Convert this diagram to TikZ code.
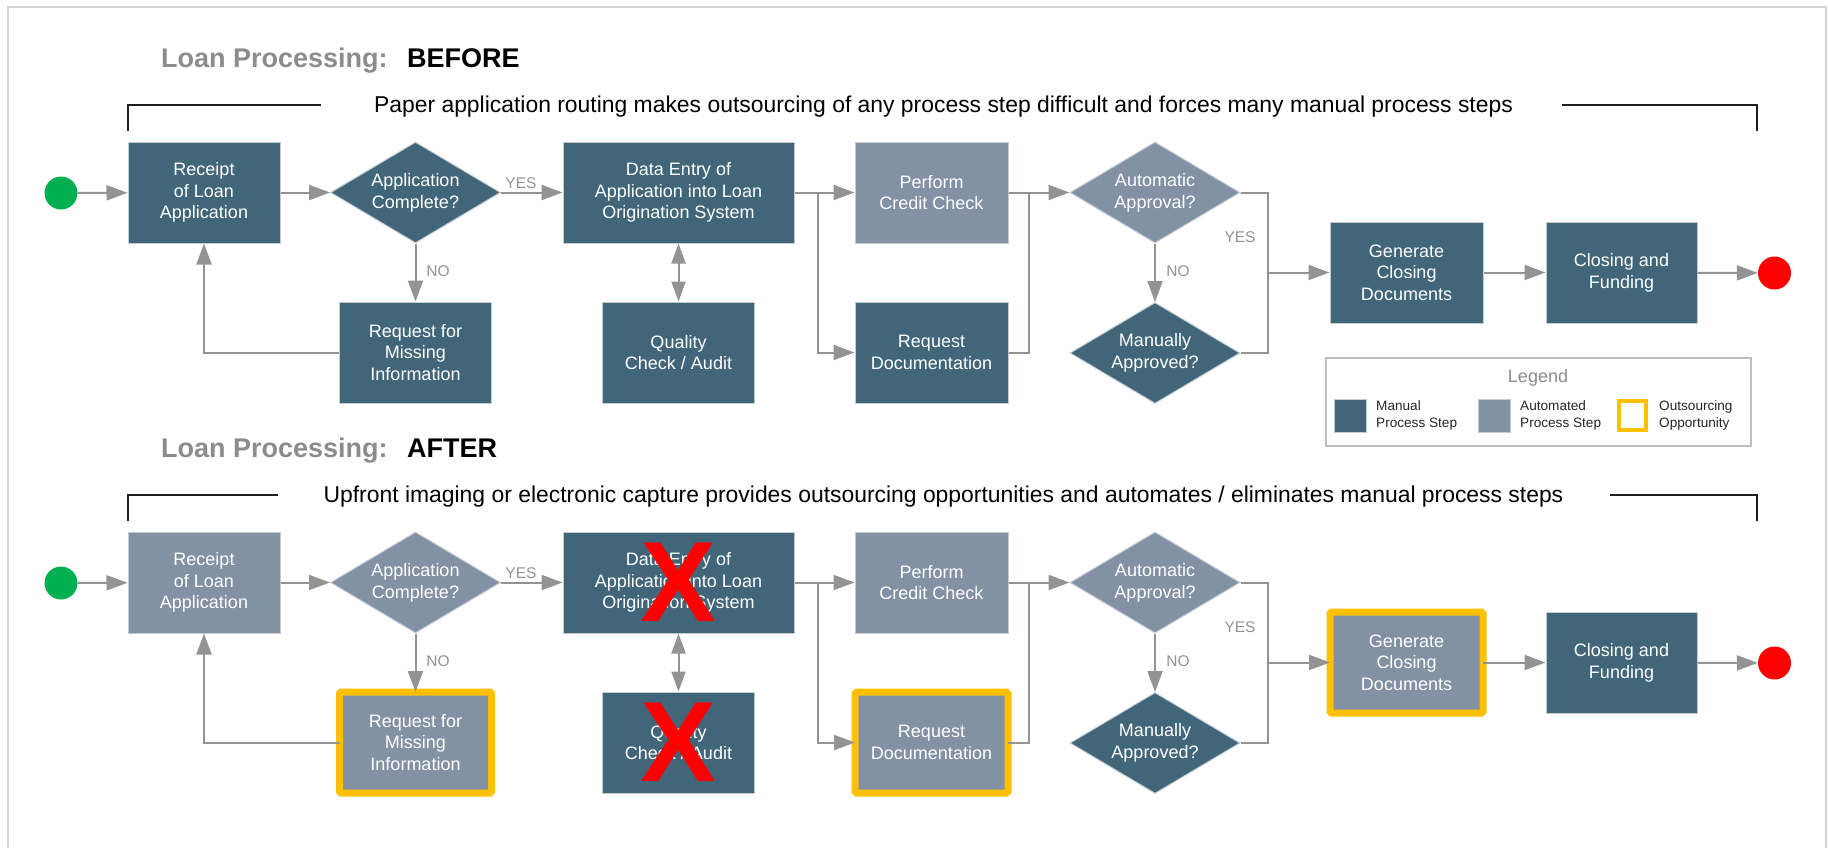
\documentclass[tikz,border=0pt]{standalone}
\usepackage{fontspec}
\setmainfont{Liberation Sans}
\usetikzlibrary{arrows.meta,shapes.geometric}
\definecolor{manual}{HTML}{416679}
\definecolor{autoc}{HTML}{8391A5}
\definecolor{edgec}{HTML}{C3CCD3}
\definecolor{conn}{HTML}{939393}
\definecolor{outs}{HTML}{FFC000}
\definecolor{ttlgrey}{HTML}{8C8C8C}
\definecolor{framegrey}{HTML}{D3D3D3}
\definecolor{startgreen}{HTML}{00B050}
\definecolor{endred}{HTML}{FF0000}
\begin{document}
\begin{tikzpicture}[x=1pt,y=-1pt,
  boxbase/.style={rectangle, draw=edgec, line width=1pt, text=white, align=center,
    font=\fontsize{18}{21.7}\selectfont, inner sep=0pt, minimum height=101pt},
  manbox/.style={boxbase, fill=manual},
  autobox/.style={boxbase, fill=autoc},
  outsbox/.style={draw=outs, line width=7pt, rounded corners=1.5pt, outer sep=0pt},
  dia/.style={diamond, draw=edgec, line width=1pt, text=white, align=center,
    font=\fontsize{18}{21.7}\selectfont, inner sep=0pt, aspect=1.68,
    minimum width=170pt, minimum height=101pt},
  termc/.style={circle, minimum size=33pt, inner sep=0pt, draw=none},
  arr/.style={draw=conn, line width=2pt, -{Triangle[length=21pt,width=15pt]}},
  dblarr/.style={draw=conn, line width=2pt, {Triangle[length=20pt,width=14pt]}-{Triangle[length=20pt,width=14pt]}},
  connl/.style={draw=conn, line width=2pt},
  lbl/.style={text=conn, font=\fontsize{15.5}{18}\selectfont, inner sep=0pt},
  ttl/.style={font=\bfseries\fontsize{27}{32}\selectfont, inner sep=0pt, anchor=base west},
  subt/.style={font=\fontsize{22.9}{26}\selectfont, inner sep=0pt, anchor=base},
  brk/.style={draw=black!88, line width=2pt},
  xmark/.style={text=endred, font=\bfseries\fontsize{114}{114}\selectfont, inner sep=0pt},
  legtxt/.style={align=left, font=\fontsize{13.6}{17}\selectfont, inner sep=0pt, text=black!85, anchor=west}
]
\useasboundingbox (0,0) rectangle (1828,847);
\fill[white] (0,0) rectangle (1828,847);
\draw[framegrey, line width=2pt] (8,860) -- (8,7) -- (1826,7) -- (1826,860);

% ================= BEFORE =================
\node[ttl, text=ttlgrey] (bt1) at (161,67) {Loan Processing:};
\node[ttl] (bt2) at (407,67) {BEFORE};
\node[subt] (bsub) at (943.5,112) {Paper application routing makes outsourcing of any process step difficult and forces many manual process steps};
\draw[brk] (321,105) -- (128,105) -- (128,131);
\draw[brk] (1562,105) -- (1757,105) -- (1757,131);

\node[termc, fill=startgreen] (bstart) at (61,193) {};
\node[manbox, minimum width=152pt] (breceipt) at (204,192.5) {Receipt\\of Loan\\Application};
\node[dia, fill=manual] (bapp) at (415.5,192.5) {Application\\Complete?};
\node[manbox, minimum width=231pt] (bdata) at (678.5,192.5) {Data Entry of\\Application into Loan\\Origination System};
\node[autobox, minimum width=153pt] (bperf) at (931.5,192.5) {Perform\\Credit Check};
\node[dia, fill=autoc] (bauto) at (1155,192.5) {Automatic\\Approval?};
\node[manbox, minimum width=153pt] (bgen) at (1406.5,272.5) {Generate\\Closing\\Documents};
\node[manbox, minimum width=151pt] (bclose) at (1621.5,272.5) {Closing and\\Funding};
\node[termc, fill=endred] (bend) at (1774.5,273) {};
\node[manbox, minimum width=152pt] (bmiss) at (415.5,352.5) {Request for\\Missing\\Information};
\node[manbox, minimum width=152pt] (bqual) at (678.5,352.5) {Quality\\Check / Audit};
\node[manbox, minimum width=153pt] (bdoc) at (931.5,352.5) {Request\\Documentation};
\node[dia, fill=manual] (bman) at (1155,353) {Manually\\Approved?};

\coordinate (bsplit) at (818,192.5);
\coordinate (bmerge) at (1029,192.5);
\coordinate (bjoin) at (1268,272.5);

\draw[arr] (bstart) -- (breceipt);
\draw[arr] (breceipt) -- (bapp);
\draw[arr] (bapp) -- (bdata);
\node[lbl] (byes1) at (521,183) {YES};
\draw[arr] (bapp) -- (bmiss);
\node[lbl] (bno1) at (438,271) {NO};
\draw[arr] (bmiss.west) -| (breceipt.south);
\draw[dblarr] (bdata) -- (bqual);
\draw[arr] (bdata) -- (bperf);
\draw[arr] (bsplit) |- (bdoc.west);
\draw[arr] (bperf) -- (bauto);
\draw[connl] (bdoc.east) -| (bmerge);
\draw[connl] (bauto.east) -| (bjoin);
\draw[connl] (bman.east) -| (bjoin);
\draw[arr] (bjoin) -- (bgen.west);
\node[lbl] (byes2) at (1240,237) {YES};
\draw[arr] (bauto) -- (bman);
\node[lbl] (bno2) at (1178,271) {NO};
\draw[arr] (bgen) -- (bclose);
\draw[arr] (bclose) -- (bend);

% legend
\node[draw=framegrey!90!black, line width=2pt, fill=white, minimum width=425pt, minimum height=88pt, inner sep=0pt] (legend) at (1538.5,402) {};
\node[text=ttlgrey, font=\fontsize{18}{21}\selectfont, inner sep=0pt] (legtitle) at (1538,378) {Legend};
\node[fill=manual, draw=edgec, line width=1pt, minimum width=32pt, minimum height=33pt, inner sep=0pt] (lman) at (1350,415.5) {};
\node[legtxt] (lmant) at (1376,415.5) {Manual\\Process Step};
\node[fill=autoc, draw=edgec, line width=1pt, minimum width=32pt, minimum height=33pt, inner sep=0pt] (lauto) at (1494.5,415.5) {};
\node[legtxt] (lautot) at (1520,415.5) {Automated\\Process Step};
\node[draw=outs, line width=4pt, fill=white, minimum width=27pt, minimum height=29pt, inner sep=0pt] (lout) at (1632.5,415.5) {};
\node[legtxt] (loutt) at (1659,415.5) {Outsourcing\\Opportunity};

% ================= AFTER =================
\begin{scope}[shift={(0,390)}]
\node[ttl, text=ttlgrey] (at1) at (161,67) {Loan Processing:};
\node[ttl] (at2) at (407,67) {AFTER};
\node[subt] (asub) at (943.5,112) {Upfront imaging or electronic capture provides outsourcing opportunities and automates / eliminates manual process steps};
\draw[brk] (278,105) -- (128,105) -- (128,131);
\draw[brk] (1610,105) -- (1757,105) -- (1757,131);

\node[termc, fill=startgreen] (astart) at (61,193) {};
\node[autobox, minimum width=152pt] (areceipt) at (204,192.5) {Receipt\\of Loan\\Application};
\node[dia, fill=autoc] (aapp) at (415.5,192.5) {Application\\Complete?};
\node[manbox, minimum width=231pt] (adata) at (678.5,192.5) {Data Entry of\\Application into Loan\\Origination System};
\node[autobox, minimum width=153pt] (aperf) at (931.5,192.5) {Perform\\Credit Check};
\node[dia, fill=autoc] (aauto) at (1155,192.5) {Automatic\\Approval?};
\node[autobox, outsbox, minimum width=153pt] (agen) at (1406.5,272.5) {Generate\\Closing\\Documents};
\node[manbox, minimum width=151pt] (aclose) at (1621.5,272.5) {Closing and\\Funding};
\node[termc, fill=endred] (aend) at (1774.5,273) {};
\node[autobox, outsbox, minimum width=152pt] (amiss) at (415.5,352.5) {Request for\\Missing\\Information};
\node[manbox, minimum width=152pt] (aqual) at (678.5,352.5) {Quality\\Check / Audit};
\node[autobox, outsbox, minimum width=153pt] (adoc) at (931.5,352.5) {Request\\Documentation};
\node[dia, fill=manual] (aman) at (1155,353) {Manually\\Approved?};

\node[xmark] (adatax) at (678.5,192.5) {X};
\node[xmark] (aqualx) at (678.5,352.5) {X};

\coordinate (asplit) at (818,192.5);
\coordinate (amerge) at (1029,192.5);
\coordinate (ajoin) at (1268,272.5);

\draw[arr] (astart) -- (areceipt);
\draw[arr] (areceipt) -- (aapp);
\draw[arr] (aapp) -- (adata);
\node[lbl] (ayes1) at (521,183) {YES};
\draw[arr] (aapp) -- (amiss);
\node[lbl] (ano1) at (438,271) {NO};
\draw[arr] (amiss.west) -| (areceipt.south);
\draw[dblarr] (adata) -- (aqual);
\draw[arr] (adata) -- (aperf);
\draw[arr] (asplit) |- (adoc.west);
\draw[arr] (aperf) -- (aauto);
\draw[connl] (adoc.east) -| (amerge);
\draw[connl] (aauto.east) -| (ajoin);
\draw[connl] (aman.east) -| (ajoin);
\draw[arr] (ajoin) -- (agen.west);
\node[lbl] (ayes2) at (1240,237) {YES};
\draw[arr] (aauto) -- (aman);
\node[lbl] (ano2) at (1178,271) {NO};
\draw[arr] (agen) -- (aclose);
\draw[arr] (aclose) -- (aend);
\end{scope}
\end{tikzpicture}
\end{document}
